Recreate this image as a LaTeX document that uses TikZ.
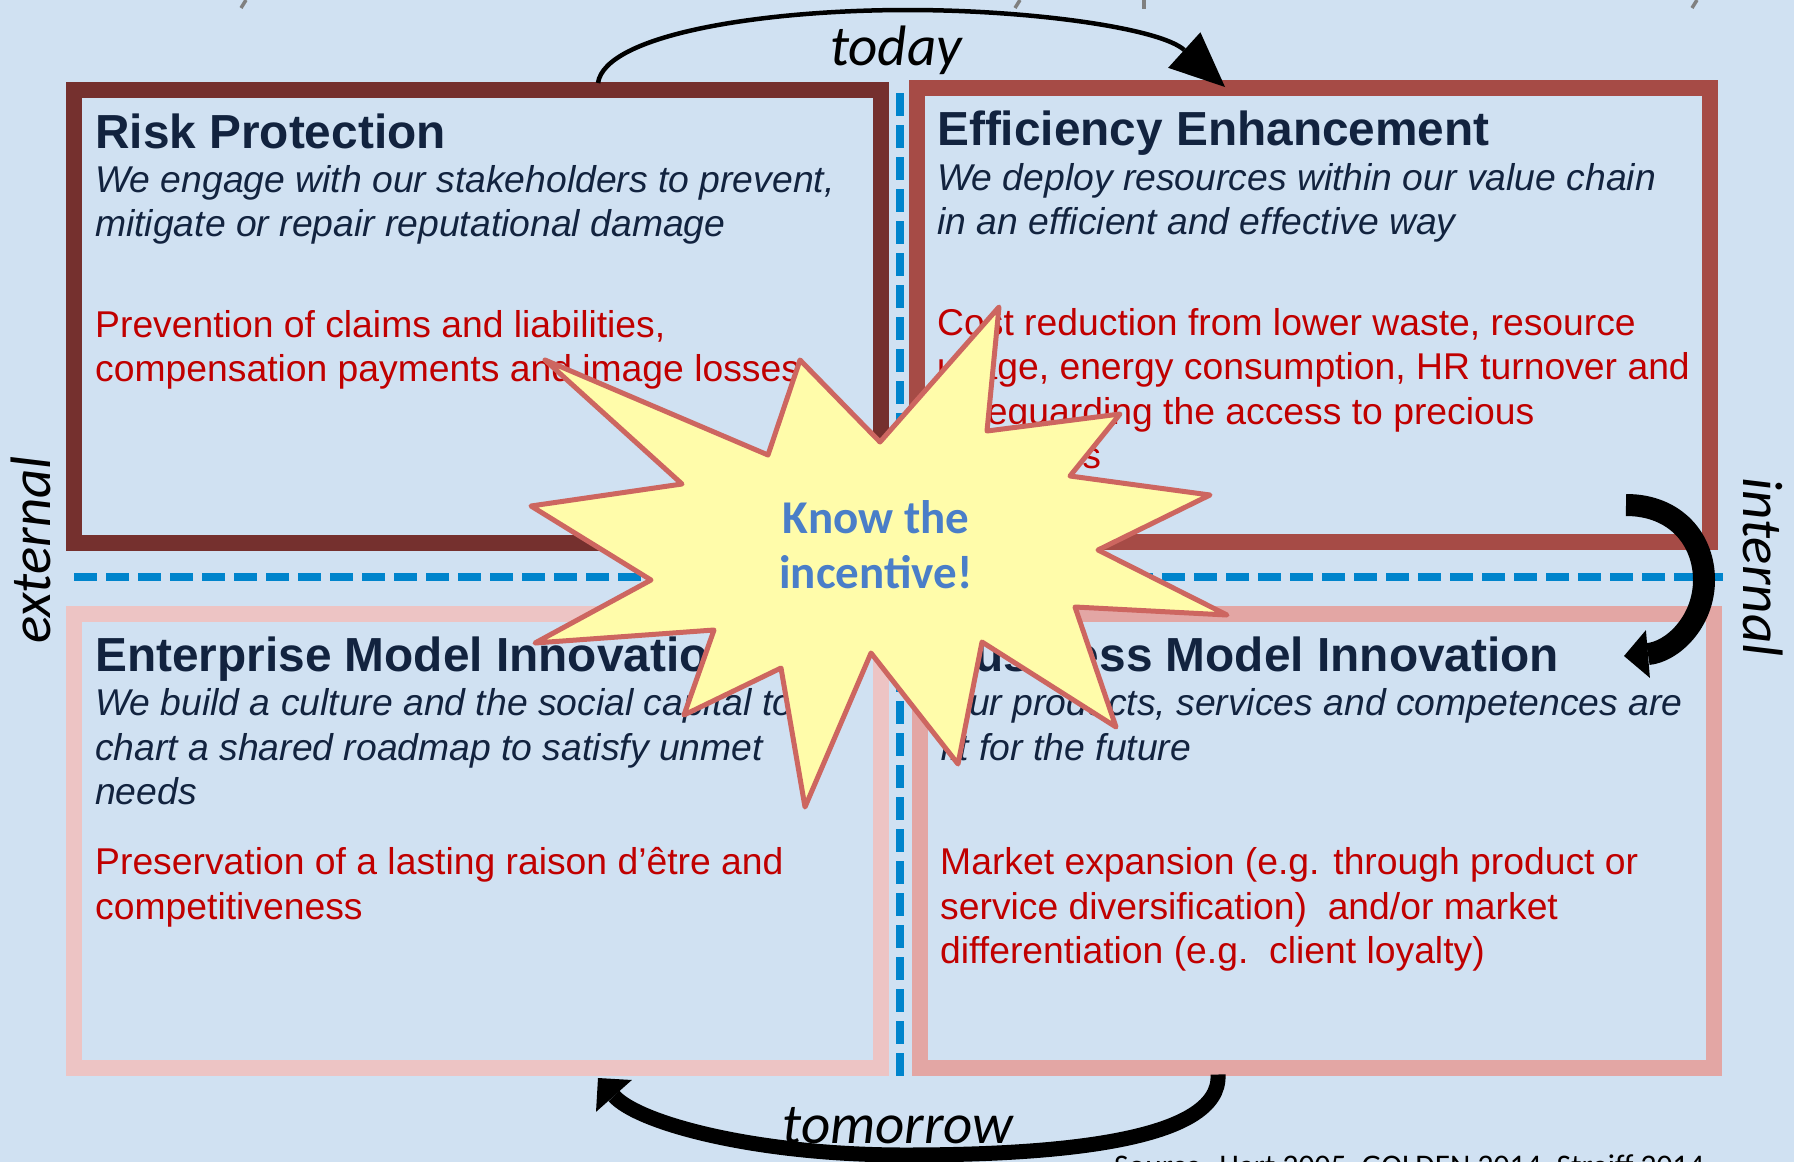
\documentclass[tikz,border=0pt]{standalone}
\usepackage{fontspec}
\setmainfont{Liberation Sans}
\newfontfamily\calibri{Carlito}
\usetikzlibrary{arrows.meta,calc}
\definecolor{cBack}{HTML}{D0E1F2}
\definecolor{cRisk}{HTML}{75302E}
\definecolor{cEff}{HTML}{A64B46}
\definecolor{cEnt}{HTML}{EDC4C4}
\definecolor{cBus}{HTML}{E3A6A4}
\definecolor{cDash}{HTML}{0084CC}
\definecolor{cHead}{HTML}{12233F}
\definecolor{cGain}{HTML}{C00000}
\definecolor{cStarFill}{HTML}{FFFCAA}
\definecolor{cStarLine}{HTML}{CD6660}
\definecolor{cStarText}{HTML}{4A7EC8}
\definecolor{cCut}{HTML}{808080}
\tikzset{
  quad/.style={draw, line width=16pt, inner sep=0pt, outer sep=0pt},
  ttl/.style={anchor=base west, inner sep=0pt, text=cHead,
              font=\fontsize{47.8}{56}\selectfont\bfseries},
  desc/.style={anchor=north west, inner sep=0pt, align=left, text=cHead,
               font=\fontsize{37.3}{44.5}\selectfont\itshape},
  gain/.style={anchor=north west, inner sep=0pt, align=left, text=cGain,
               font=\fontsize{37.3}{44.5}\selectfont},
  sep/.style={cDash, line width=7.5pt, dash pattern=on 23pt off 9pt},
  burst/.style={draw=cStarLine, fill=cStarFill, line width=5pt, line join=round},
  punch/.style={inner sep=0pt, align=center, text=cStarText,
                font=\calibri\bfseries\fontsize{47}{55}\selectfont},
  axis/.style={inner sep=0pt, anchor=base, font=\calibri\itshape\fontsize{57}{64}\selectfont},
  dayArrow/.style={line width=4.5pt, -{Triangle[length=55pt,width=48pt,line width=0pt]}},
  bendArrow/.style={line width=#1, -{Triangle[length=24pt,width=48pt,line width=0pt]}},
}

\begin{document}
\begin{tikzpicture}[x=1pt,y=-1pt]
  \useasboundingbox (0,0) rectangle (1794,1162);
  \clip (0,0) rectangle (1794,1162);
  \fill[cBack] (0,0) rectangle (1794,1162);

  % cut-off heading along the top edge
  \draw[cCut, line width=3.5pt] (246,0) -- (241,8);
  \draw[cCut, line width=3.5pt] (1020,0) -- (1015,8);
  \draw[cCut, line width=3.5pt] (1144,0) -- (1144,9);
  \draw[cCut, line width=3.5pt] (1697,0) -- (1692,8);

  % dashed axes
  \coordinate (sepW) at (74,577);
  \coordinate (sepE) at (1723,577);
  \coordinate (sepN) at (900,93);
  \coordinate (sepS) at (900,1077);
  \draw[sep] (sepW) -- (sepE);
  \draw[sep] (sepN) -- (sepS);

  % quadrants
  \node[quad, draw=cRisk, minimum width=807pt, minimum height=453pt] (rp) at (477.5,316.5) {};
  \node[quad, draw=cEff, minimum width=793pt, minimum height=454pt] (ee) at (1313.5,315) {};
  \node[quad, draw=cEnt, minimum width=807pt, minimum height=454pt] (emi) at (477.5,840.5) {};
  \node[quad, draw=cBus, minimum width=794pt, minimum height=454pt] (bmi) at (1317,840.5) {};

  \node[ttl] (rpTitle) at ([shift={(21,58)}]rp.north west) {Risk Protection};
  \node[desc] (rpDesc) at ([shift={(21,70.85)}]rp.north west)
    {\strut We engage with our stakeholders to prevent,\\ mitigate or repair reputational damage};
  \node[gain] (rpGain) at ([shift={(21,215.85)}]rp.north west)
    {\strut Prevention of claims and liabilities,\\ compensation payments and image losses};

  \node[ttl] (eeTitle) at ([shift={(20,57)}]ee.north west) {Efficiency Enhancement};
  \node[desc] (eeDesc) at ([shift={(20,70.85)}]ee.north west)
    {\strut We deploy resources within our value chain\\ in an efficient and effective way};
  \node[gain] (eeGain) at ([shift={(20,215.85)}]ee.north west)
    {\strut Cost reduction from lower waste, resource\\ usage, energy consumption, HR turnover and\\
     safeguarding the access to precious\\ resources};

  \node[ttl] (emiTitle) at ([shift={(21,57.5)}]emi.north west) {Enterprise Model Innovation};
  \node[desc] (emiDesc) at ([shift={(21,70.85)}]emi.north west)
    {\strut We build a culture and the social capital to\\ chart a shared roadmap to satisfy unmet\\ needs};
  \node[gain] (emiGain) at ([shift={(21,229.85)}]emi.north west)
    {\strut Preservation of a lasting raison d’être and\\ competitiveness};

  \node[ttl] (bmiTitle) at ([shift={(20,57.5)}]bmi.north west) {Business Model Innovation};
  \node[desc] (bmiDesc) at ([shift={(20,70.85)}]bmi.north west)
    {\strut Our products, services and competences are\\ fit for the future};
  \node[gain] (bmiGain) at ([shift={(20,229.85)}]bmi.north west)
    {\strut Market expansion (e.g. through product or\\ service diversification)\ \ and/or market\\
     differentiation (e.g.\ \ client loyalty)};

  % starburst
  \draw[burst] (545,360) -- (768,455) -- (800,360) -- (880,442) -- (999,307) -- (987,431)
    -- (1120,414) -- (1070,476) -- (1210,495) -- (1098,550) -- (1227,615) -- (1075,607)
    -- (1116,727) -- (982,642) -- (958,764) -- (871,653) -- (805,807) -- (781,668)
    -- (684,715) -- (714,630) -- (535,643) -- (651,580) -- (531,506) -- (682,484) -- cycle;
  \node[punch] (incentive) at (876,549.5) {\strut Know the\\\strut incentive!};

  % cycle arrows
  \coordinate (todayA) at ([shift={(524,-7)}]rp.north west);
  \coordinate (todayTop) at (908,10);
  \coordinate (todayB) at ([shift={(308,-1)}]ee.north west);
  \draw[dayArrow] (todayA) .. controls +(7,-48) and +(-148,0) .. (todayTop)
    .. controls +(122,0) and +(-65,-59) .. (todayB);

  \coordinate (turnA) at ([shift={(-84,-37)}]ee.south east);
  \coordinate (turnMid) at (1704,580);
  \coordinate (turnB) at ([shift={(-90,42.5)}]bmi.north east);
  \draw[bendArrow=22pt] (turnA) .. controls +(50,0) and +(0,-40) .. (turnMid)
    .. controls +(0,42) and +(48,-4) .. (turnB);

  \coordinate (tmrA) at ([shift={(-99,7)}]bmi.south);
  \coordinate (tmrLow) at (905,1155);
  \coordinate (tmrB) at ([shift={(524,10.5)}]emi.south west);
  \draw[bendArrow=15pt] (tmrA) .. controls +(4,67) and +(150,0) .. (tmrLow)
    .. controls +(-150,0) and +(40,45) .. (tmrB);

  % axis labels
  \node[axis] (today) at (896,65) {today};
  \node[axis] (tomorrow) at (898,1143) {tomorrow};
  \node[axis, rotate=90] (external) at (50,550) {external};
  \node[axis, rotate=-90] (internal) at (1743,567) {internal};
  \node[anchor=base west, inner sep=0pt, font=\calibri\fontsize{31.5}{36}\selectfont]
    (source) at (1114,1176) {Source: Hart 2005, GOLDEN 2014, Streiff 2014};
\end{tikzpicture}
\end{document}
